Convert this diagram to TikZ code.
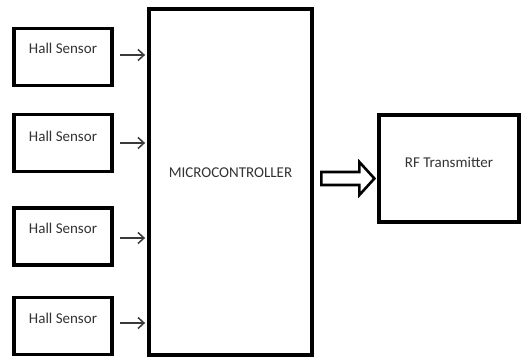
\documentclass[tikz,border=0pt]{standalone}
\usepackage{fontspec}
\setmainfont{Carlito}
\usetikzlibrary{arrows.meta,calc}
\definecolor{txt}{HTML}{333333}
\definecolor{arr}{HTML}{3A3A3A}
\tikzset{
  blockbox/.style={draw=black,line width=3.8pt,fill=white,inner sep=0pt},
  hallbox/.style={blockbox,minimum width=98pt,minimum height=57pt},
  boxtext/.style={font=\fontsize{15}{18}\selectfont,text=txt,inner sep=0pt},
  sarrow/.style={draw=arr,line width=1.5pt,-{Straight Barb[length=6pt,width=11pt,line width=1.5pt]}},
  hollowarrow/.style={draw=black,line width=2.6pt,fill=white,line join=miter}
}
\begin{document}
\begin{tikzpicture}[x=1pt,y=-1pt]
\useasboundingbox (0,0) rectangle (522,360);
\fill[white] (0,0) rectangle (522,360);
\node[hallbox,label={[boxtext,name=t1,yshift=8.5pt]center:Hall Sensor}] (h1) at (63,57) {};
\node[hallbox,label={[boxtext,name=t2,yshift=6.5pt]center:Hall Sensor}] (h2) at (63,143) {};
\node[hallbox,label={[boxtext,name=t3,yshift=8.5pt]center:Hall Sensor}] (h3) at (63,236.5) {};
\node[hallbox,label={[boxtext,name=t4,yshift=8pt]center:Hall Sensor}] (h4) at (63,326) {};
\node[blockbox,minimum width=163pt,minimum height=346pt,label={[boxtext,name=tm,yshift=9pt]center:MICROCONTROLLER}] (mcu) at (230.5,182) {};
\node[blockbox,minimum width=140pt,minimum height=107pt,label={[boxtext,name=tr,yshift=6.5pt]center:RF Transmitter}] (rf) at (449,168.5) {};
\draw[sarrow] ([xshift=6pt,yshift=2pt]h1.east) -- ([xshift=-2pt,yshift=2pt]h1.east -| mcu.west);
\draw[sarrow] ([xshift=6pt]h2.east) -- ([xshift=-2pt]h2.east -| mcu.west);
\draw[sarrow] ([xshift=6pt,yshift=-1.5pt]h3.east) -- ([xshift=-2pt,yshift=-1.5pt]h3.east -| mcu.west);
\draw[sarrow] ([xshift=6pt,yshift=3pt]h4.east) -- ([xshift=-2pt,yshift=3pt]h4.east -| mcu.west);
\coordinate (as) at ([xshift=7.5pt,yshift=3.5pt]mcu.east);
\draw[hollowarrow] ($(as)+(0,-6.5)$) -- ($(as)+(38,-6.5)$) -- ($(as)+(38,-16.5)$) -- ($(as)+(53,0)$) -- ($(as)+(38,16.5)$) -- ($(as)+(38,6.5)$) -- ($(as)+(0,6.5)$) -- cycle;
\end{tikzpicture}
\end{document}
